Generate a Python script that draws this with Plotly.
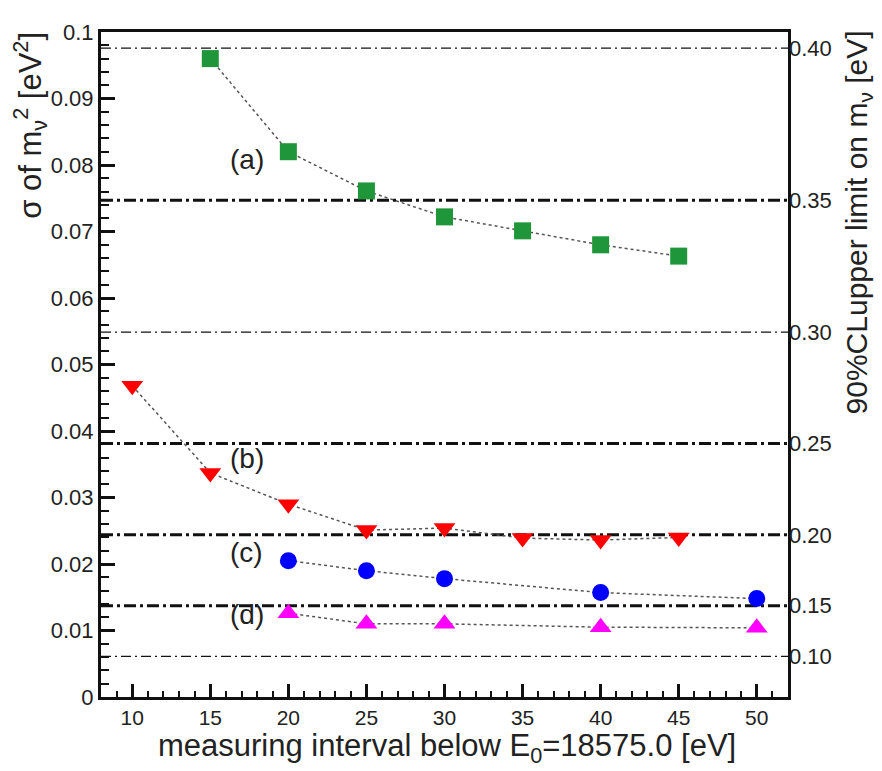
import plotly.graph_objects as go

# ---- data ----
x_a = [15, 20, 25, 30, 35, 40, 45]
sigma_a = [0.0960, 0.0820, 0.0761, 0.0722, 0.0701, 0.0680, 0.0663]

x_b = [10, 15, 20, 25, 30, 35, 40, 45]
sigma_b = [0.0468, 0.0337, 0.0290, 0.0251, 0.0254, 0.0239, 0.0236, 0.0240]

x_c = [20, 25, 30, 40, 50]
sigma_c = [0.0205, 0.0190, 0.0178, 0.0157, 0.0148]

x_d = [20, 25, 30, 40, 50]
sigma_d = [0.0126, 0.0110, 0.0110, 0.0105, 0.0104]

cl_values = [0.10, 0.15, 0.20, 0.25, 0.30, 0.35, 0.40]
cl_labels = ["0.10", "0.15", "0.20", "0.25", "0.30", "0.35", "0.40"]
cl_factor = 1.64  # sigma(m^2) = m_lim^2 / 1.64
cl_sigma = [v * v / cl_factor for v in cl_values]

# ---- styles ----
thick_cl = {"0.15", "0.20", "0.25", "0.35"}
TXT = "#222222"
FONT = "Liberation Sans, Arial, sans-serif"

fig = go.Figure()

# reference lines (dash-dot)
for lab, s in zip(cl_labels, cl_sigma):
    thick = lab in thick_cl
    fig.add_shape(type="line", xref="paper", x0=0, x1=1, yref="y", y0=s, y1=s,
                  line=dict(color="#111111", width=3 if thick else 1.3,
                            dash="12px,4px,3px,4px" if thick else "10px,4px,2px,4px"),
                  layer="below")

series = [
    (x_a, sigma_a, "square", "#1e9639", 17),
    (x_b, sigma_b, "triangle-down", "#ff0000", 19),
    (x_c, sigma_c, "circle", "#0000ff", 17),
    (x_d, sigma_d, "triangle-up", "#ff00ff", 19),
]
for xs, ys, sym, col, sz in series:
    fig.add_trace(go.Scatter(
        x=xs, y=ys, mode="lines+markers",
        line=dict(color="#555555", width=1.5, dash="3px,3px"),
        marker=dict(symbol=sym, color=col, size=sz, line=dict(width=0)),
        showlegend=False, hoverinfo="skip"))

# invisible trace to activate the right axis
fig.add_trace(go.Scatter(x=[8], y=[0], yaxis="y2", mode="markers",
                         marker=dict(opacity=0), showlegend=False, hoverinfo="skip"))

fig.update_layout(
    width=874, height=763,
    margin=dict(l=93, r=94, t=13, b=74),
    paper_bgcolor="white", plot_bgcolor="white",
    font=dict(family=FONT, color=TXT),
    xaxis=dict(range=[8, 52], dtick=5, tick0=0, ticks="inside", ticklen=13,
               tickwidth=2.5, tickcolor="#111", showgrid=False, zeroline=False,
               showline=True, linewidth=3, linecolor="#111", mirror=True,
               tickfont=dict(size=21, color=TXT, family=FONT),
               minor=dict(dtick=1, ticks="inside", ticklen=6, tickwidth=2,
                          tickcolor="#111", showgrid=False)),
    yaxis=dict(range=[0, 0.1], dtick=0.01, tick0=0, ticks="inside", ticklen=14,
               tickwidth=2.5, tickcolor="#111", showgrid=False, zeroline=False,
               showline=True, linewidth=3, linecolor="#111", mirror=True,
               tickfont=dict(size=22, color=TXT, family=FONT),
               minor=dict(dtick=0.002, ticks="inside", ticklen=8, tickwidth=2,
                          tickcolor="#111", showgrid=False)),
    yaxis2=dict(range=[0, 0.1], overlaying="y", side="right", tickmode="array",
                tickvals=cl_sigma, ticktext=cl_labels, ticks="", showgrid=False,
                zeroline=False, showline=False,
                tickfont=dict(size=22, color=TXT, family=FONT)),
)

ann_font = dict(size=28, color=TXT, family=FONT)
for txt, xv, yv in [("(a)", 17.35, 0.0808), ("(b)", 17.35, 0.0358),
                    ("(c)", 17.35, 0.0218), ("(d)", 17.35, 0.0124)]:
    fig.add_annotation(x=xv, y=yv, xref="x", yref="y", text=txt, showarrow=False,
                       font=ann_font, xanchor="center", yanchor="middle")

fig.add_annotation(text="σ of m<sub>ν</sub><sup>2</sup> [eV<sup>2</sup>]",
                   xref="paper", yref="paper", x=-0.103, y=1.003,
                   xanchor="center", yanchor="top", textangle=-90,
                   showarrow=False, font=dict(size=31, color=TXT, family=FONT))
fig.add_annotation(text="90%CLupper limit on m<sub>ν</sub> [eV]",
                   xref="paper", yref="paper", x=1.103, y=1.005,
                   xanchor="center", yanchor="top", textangle=-90,
                   showarrow=False, font=dict(size=30, color=TXT, family=FONT))
fig.add_annotation(text="measuring interval below E<sub>0</sub>=18575.0 [eV]",
                   xref="paper", yref="paper", x=0.5036, y=-0.076,
                   xanchor="center", yanchor="middle",
                   showarrow=False, font=dict(size=31, color=TXT, family=FONT))

fig.write_html("out.html")
